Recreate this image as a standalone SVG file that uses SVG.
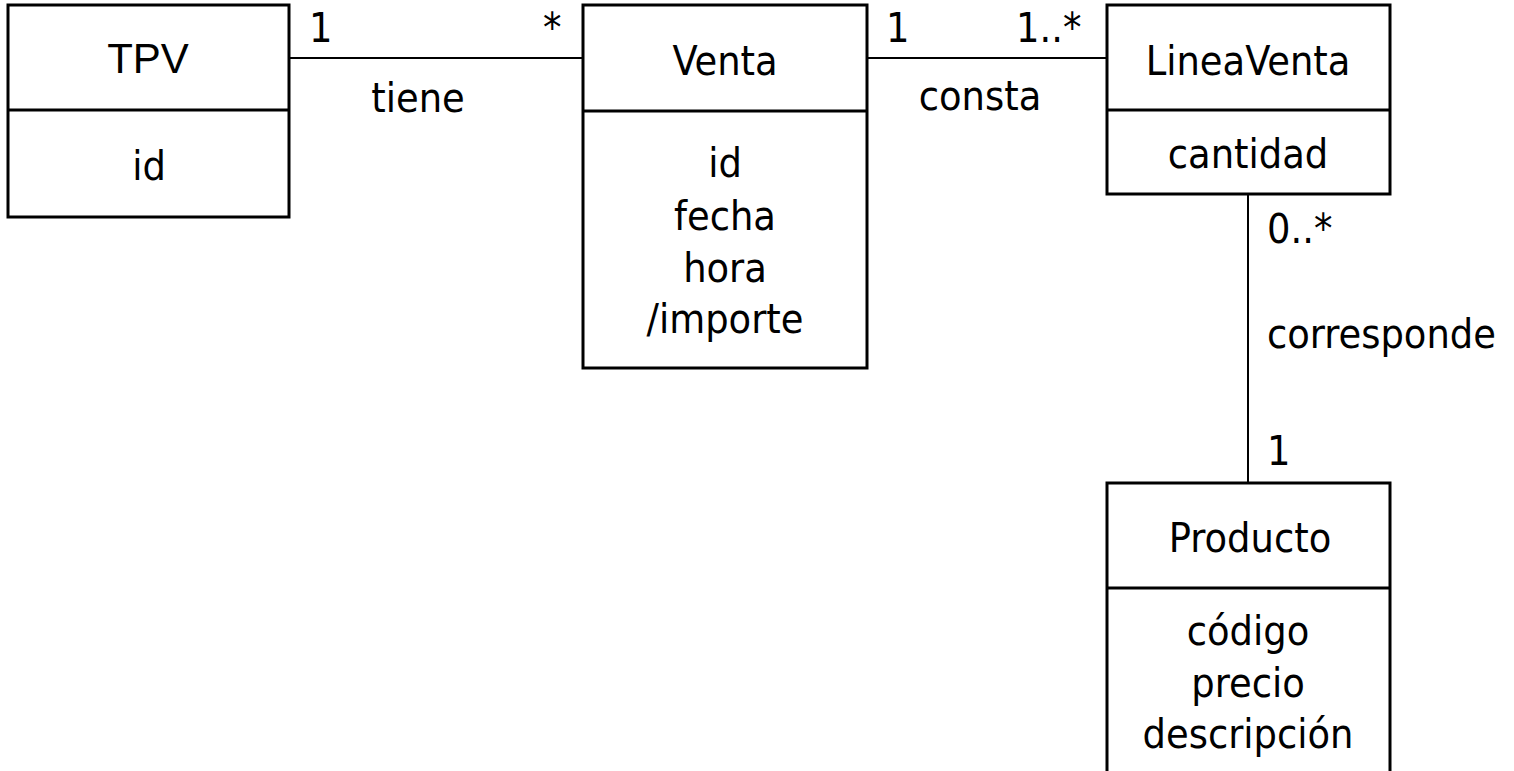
<svg xmlns="http://www.w3.org/2000/svg" width="1514" height="771" viewBox="0 0 1514 771">
<style>
.box{fill:#fff;stroke:#000;stroke-width:3}
.div{stroke:#000;stroke-width:3}
.con{stroke:#000;stroke-width:2;fill:none}
text{font-family:"DejaVu Sans Condensed","DejaVu Sans",sans-serif;font-size:41px;fill:#000}
.c{text-anchor:middle}
.h{font-family:"Liberation Sans",Arial,sans-serif;font-size:42px}
</style>
<rect width="1514" height="771" fill="#fff"/>
<g id="connectors">
<line class="con" x1="289" y1="58" x2="583" y2="58"/>
<line class="con" x1="867" y1="58" x2="1106" y2="58"/>
<line class="con" x1="1248" y1="194" x2="1248" y2="483"/>
<text x="309" y="42">1</text>
<text x="543" y="42">*</text>
<text class="c" x="418" y="112">tiene</text>
<text x="886" y="42">1</text>
<text x="1016" y="42">1..*</text>
<text class="c" x="980" y="110">consta</text>
<text x="1267" y="243">0..*</text>
<text x="1267" y="348">corresponde</text>
<text x="1267" y="465">1</text>
</g>
<g id="TPV">
<rect class="box" x="8" y="5" width="281" height="212"/>
<line class="div" x1="8" y1="110" x2="289" y2="110"/>
<text class="c h" x="148" y="73">TPV</text>
<text class="c" x="149" y="180">id</text>
</g>
<g id="Venta">
<rect class="box" x="583" y="5" width="284" height="363"/>
<line class="div" x1="583" y1="111" x2="867" y2="111"/>
<text class="c" x="725" y="75">Venta</text>
<text class="c" x="725" y="177">id</text>
<text class="c" x="725" y="230">fecha</text>
<text class="c" x="725" y="282">hora</text>
<text class="c" x="725" y="333">/importe</text>
</g>
<g id="LineaVenta">
<rect class="box" x="1107" y="5" width="283" height="189"/>
<line class="div" x1="1107" y1="110" x2="1390" y2="110"/>
<text class="c" x="1248" y="75">LineaVenta</text>
<text class="c" x="1248" y="168">cantidad</text>
</g>
<g id="Producto">
<rect class="box" x="1107" y="483" width="283" height="300"/>
<line class="div" x1="1107" y1="588" x2="1390" y2="588"/>
<text class="c" x="1250" y="552">Producto</text>
<text class="c" x="1248" y="645">código</text>
<text class="c" x="1248" y="697">precio</text>
<text class="c" x="1248" y="748">descripción</text>
</g>
</svg>
